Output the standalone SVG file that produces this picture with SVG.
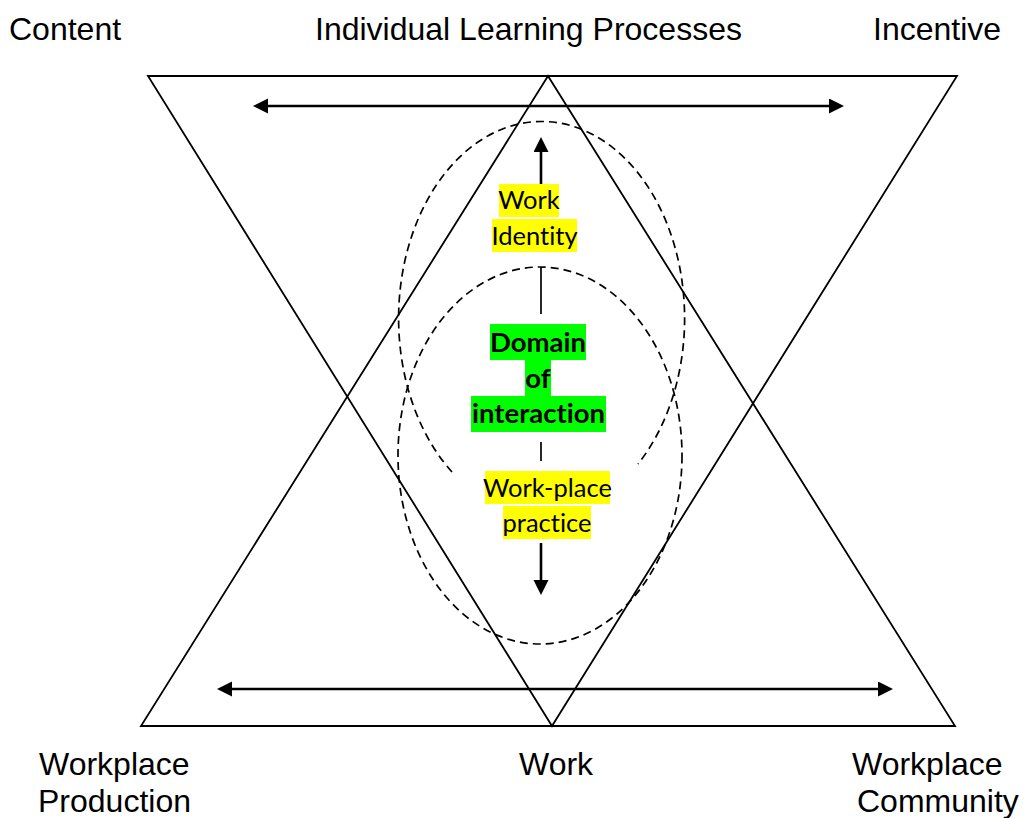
<svg xmlns="http://www.w3.org/2000/svg" width="1027" height="818" viewBox="0 0 1027 818">
  <style>
    .tri { fill: none; stroke: #000; stroke-width: 1.8; stroke-linejoin: miter; }
    .ell { fill: none; stroke: #000; stroke-width: 1.7; stroke-dasharray: 8 5; }
    .arr { fill: none; stroke: #000; stroke-width: 2.6; }
    .seg { fill: none; stroke: #000; stroke-width: 1.7; }
    .lbl { font-family: "Liberation Sans", Arial, sans-serif; font-size: 32px; fill: #000; }
    .mid { font-family: Lato, "Open Sans", sans-serif; font-size: 25.5px; fill: #000; text-anchor: middle; font-variant-ligatures: none; font-feature-settings: "liga" 0, "clig" 0; }
    .bold { font-weight: bold; font-size: 27.5px; }
    .hy { fill: #ffff00; }
    .hg { fill: #00ff00; }
  </style>
  <defs>
    <marker id="ah" markerUnits="userSpaceOnUse" markerWidth="16" markerHeight="16" refX="10" refY="7.5" orient="auto-start-reverse" viewBox="0 0 16 16">
      <path d="M0,0 L15,7.5 L0,15 Z" fill="#000"/>
    </marker>
  </defs>

  <g id="triangles">
    <polygon id="inverted-triangle" class="tri" points="148,76 957,76 552,726"/>
    <polygon id="upright-triangle" class="tri" points="548,76 141,726 955,726"/>
  </g>

  <g id="ellipses">
    <path id="upper-ellipse" class="ell" d="M 452,472 A 143 197 0 1 1 638,464"/>
    <ellipse id="lower-ellipse" class="ell" cx="540" cy="455.5" rx="142" ry="188.5"/>
  </g>

  <g id="connectors">
    <line class="arr" x1="258" y1="106" x2="839" y2="106" marker-start="url(#ah)" marker-end="url(#ah)"/>
    <line class="arr" x1="222" y1="689" x2="888" y2="689" marker-start="url(#ah)" marker-end="url(#ah)"/>
    <line class="arr" x1="541" y1="193" x2="541" y2="142" marker-end="url(#ah)"/>
    <line class="seg" x1="541" y1="267" x2="541" y2="314"/>
    <line class="seg" x1="541" y1="442" x2="541" y2="461"/>
    <line class="arr" x1="541" y1="543" x2="541" y2="590" marker-end="url(#ah)"/>
  </g>

  <g id="node-work-identity">
    <rect class="hy" x="499" y="184" width="60" height="33"/>
    <rect class="hy" x="492" y="219" width="85" height="33"/>
    <text class="mid" x="529" y="209">Work</text>
    <text class="mid" x="534.5" y="245">Identity</text>
  </g>

  <g id="node-domain">
    <rect class="hg" x="490" y="324" width="96" height="36"/>
    <rect class="hg" x="525" y="360" width="26" height="36"/>
    <rect class="hg" x="471" y="396" width="135" height="36"/>
    <text class="mid bold" x="538" y="352">Domain</text>
    <text class="mid bold" x="538" y="388">of</text>
    <text class="mid bold" x="538.5" y="423">interaction</text>
  </g>

  <g id="node-workplace-practice">
    <rect class="hy" x="485" y="471" width="125" height="33"/>
    <rect class="hy" x="503" y="506" width="88" height="33"/>
    <text class="mid" x="547.5" y="497">Work-place</text>
    <text class="mid" x="547" y="532">practice</text>
  </g>

  <g id="node-content"><text class="lbl" x="9" y="40">Content</text></g>
  <g id="node-individual-learning"><text class="lbl" x="315" y="40">Individual Learning Processes</text></g>
  <g id="node-incentive"><text class="lbl" x="873" y="40">Incentive</text></g>
  <g id="node-workplace-production">
    <text class="lbl" x="39" y="775">Workplace</text>
    <text class="lbl" x="38" y="812">Production</text>
  </g>
  <g id="node-work"><text class="lbl" x="519" y="775">Work</text></g>
  <g id="node-workplace-community">
    <text class="lbl" x="852" y="775">Workplace</text>
    <text class="lbl" x="857" y="812">Community</text>
  </g>
</svg>
